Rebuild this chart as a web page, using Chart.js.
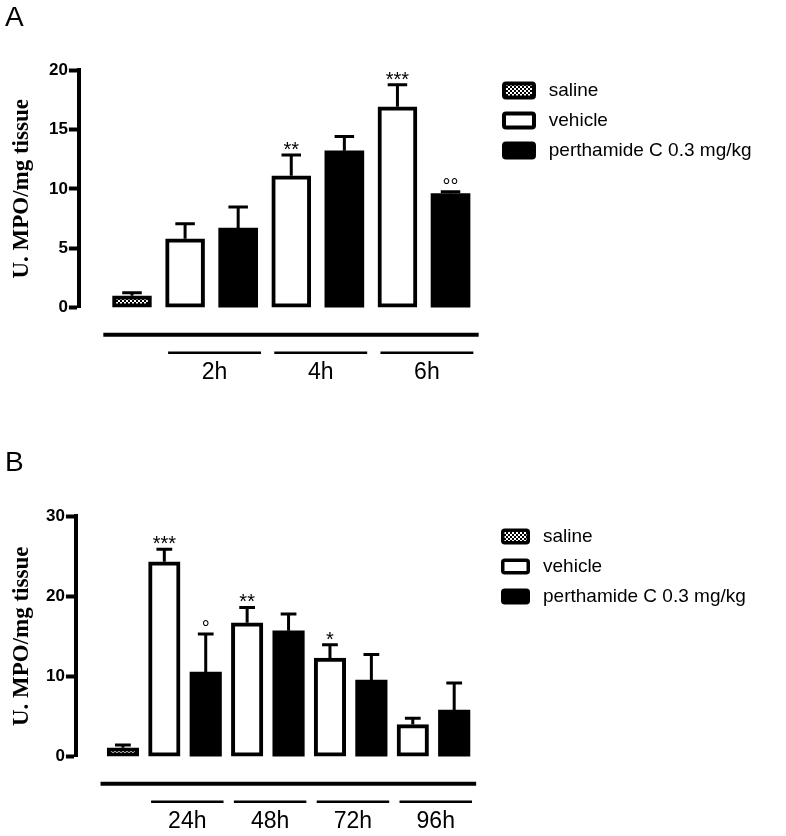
<!DOCTYPE html>
<html>
<head>
<meta charset="utf-8">
<script src="https://cdn.jsdelivr.net/npm/chart.js@4.4.1/dist/chart.umd.min.js"></script>
<style>
  body { margin: 0; background: #fff; }
  canvas { display: block; }
</style>
</head>
<body>
<canvas id="chartA" width="786" height="410"></canvas>
<canvas id="chartB" width="786" height="426"></canvas>
<script>
// Panel A: 2h - 6h
var timesA = ['2h', '4h', '6h'];
var salineA = 1.0;
var salineErrA = 0.25;
var vehicleA = [5.8, 11.1, 16.9];
var vehicleErrA = [1.27, 1.75, 1.85];
var vehicleMarksA = ['', '**', '***'];
var perthA = [6.7, 13.2, 9.6];
var perthErrA = [1.77, 1.2, 0.15];
var perthMarksA = ['', '', '°°'];

// Panel B: 24h - 96h
var timesB = ['24h', '48h', '72h', '96h'];
var salineB = 1.1;
var salineErrB = 0.35;
var vehicleB = [24.3, 16.7, 12.3, 4.0];
var vehicleErrB = [1.55, 1.9, 1.65, 0.8];
var vehicleMarksB = ['***', '**', '*', ''];
var perthB = [10.55, 15.7, 9.55, 5.8];
var perthErrB = [4.75, 2.1, 3.2, 3.4];
var perthMarksB = ['°', '', '', ''];

var seriesNames = ['saline', 'vehicle', 'perthamide C 0.3 mg/kg'];

Chart.defaults.color = '#000';
Chart.defaults.font.family = 'Liberation Sans, Arial, sans-serif';

function checkerPattern() {
  var c = document.createElement('canvas');
  c.width = 4; c.height = 4;
  var g = c.getContext('2d');
  g.fillStyle = '#fff';
  g.fillRect(0, 0, 4, 4);
  g.fillStyle = '#000';
  g.fillRect(0, 0, 2, 2);
  g.fillRect(2, 2, 2, 2);
  return g.createPattern(c, 'repeat');
}
var saltFill = checkerPattern();

// saline sits at x = 1, then vehicle / perthamide pairs for each time point
function buildDatasets(saline, salineErr, veh, vehErr, vehMarks, perth, perthErr, perthMarks) {
  var common = { borderColor: '#000', borderWidth: 4, borderSkipped: false,
                 grouped: false, clip: false };
  var vehPts = veh.map(function(v, i) { return { x: 2 + 2 * i, y: v, err: vehErr[i], mark: vehMarks[i] }; });
  var perthPts = perth.map(function(v, i) { return { x: 3 + 2 * i, y: v, err: perthErr[i], mark: perthMarks[i] }; });
  return [
    Object.assign({ label: seriesNames[0], backgroundColor: saltFill,
                    data: [{ x: 1, y: saline, err: salineErr, mark: '' }] }, common),
    Object.assign({ label: seriesNames[1], backgroundColor: '#fff', data: vehPts }, common),
    // solid black bars need no separate border
    Object.assign({}, common, { label: seriesNames[2], backgroundColor: '#000', borderWidth: 0, data: perthPts })
  ];
}

// the layout only lets a side legend take a quarter of the width, so give it a fixed one
var wideLegend = {
  id: 'wideLegend',
  beforeLayout(chart, args, opts) {
    var legend = chart.legend;
    if (!legend || legend._wide) return;
    var orig = legend.update;
    legend.update = function(maxWidth, maxHeight, margins) {
      orig.call(this, 1000, maxHeight, margins);
      this.width = opts.width;
    };
    legend._wide = true;
  }
};

var extras = {
  id: 'extras',
  afterDatasetsDraw(chart, args, opts) {
    var ctx = chart.ctx;
    var x = chart.scales.x, y = chart.scales.y;
    var zero = y.getPixelForValue(0);
    ctx.save();
    ctx.strokeStyle = '#000';
    ctx.fillStyle = '#000';
    ctx.lineCap = 'butt';
    // error bars and significance marks
    chart.data.datasets.forEach(function(ds, di) {
      chart.getDatasetMeta(di).data.forEach(function(bar, i) {
        var pt = ds.data[i];
        var top = y.getPixelForValue(pt.y + pt.err);
        var half = bar.width * 0.25;
        ctx.lineWidth = 3;
        ctx.beginPath();
        ctx.moveTo(bar.x, bar.y);
        ctx.lineTo(bar.x, top);
        ctx.moveTo(bar.x - half, top);
        ctx.lineTo(bar.x + half, top);
        ctx.stroke();
        if (pt.mark) {
          ctx.font = '20px Liberation Sans';
          ctx.textAlign = 'center';
          ctx.textBaseline = 'alphabetic';
          ctx.fillText(pt.mark, bar.x, top + 1);
        }
      });
    });
    // grouping lines under the bars
    var times = opts.times;
    var last = 1 + 2 * times.length;
    ctx.lineWidth = 4;
    ctx.beginPath();
    ctx.moveTo(x.getPixelForValue(0.46), zero + 27);
    ctx.lineTo(x.getPixelForValue(last + 0.53), zero + 27);
    ctx.stroke();
    ctx.lineWidth = 2.5;
    ctx.font = '23px Liberation Sans';
    ctx.textAlign = 'center';
    ctx.textBaseline = 'middle';
    times.forEach(function(t, i) {
      var x0 = x.getPixelForValue(2 + 2 * i - 0.32);
      var x1 = x.getPixelForValue(3 + 2 * i + 0.43);
      ctx.beginPath();
      ctx.moveTo(x0, zero + 45);
      ctx.lineTo(x1, zero + 45);
      ctx.stroke();
      ctx.fillText(t, (x0 + x1) / 2, zero + 65);
    });
    ctx.restore();
  }
};

function makeChart(id, letter, datasets, times, cfg) {
  return new Chart(document.getElementById(id), {
    type: 'bar',
    data: { datasets: datasets },
    plugins: [wideLegend, extras],
    options: {
      responsive: false,
      animation: false,
      barThickness: cfg.barW,
      layout: { padding: cfg.padding },
      scales: {
        x: { type: 'linear', display: false, offset: false, min: cfg.xMin, max: cfg.xMax },
        y: {
          min: 0, max: cfg.yMax,
          ticks: { stepSize: cfg.yStep, padding: 1, font: { size: 17, weight: 'bold' } },
          grid: { drawOnChartArea: false, drawTicks: true, tickLength: 10, tickWidth: 4, tickColor: '#000' },
          border: { display: true, color: '#000', width: 4 },
          title: { display: true, text: 'U. MPO/mg tissue',
                   font: { family: 'Liberation Serif, Times New Roman, serif', size: 23, weight: 'bold' },
                   padding: { top: 3.2, bottom: cfg.titleGap } }
        }
      },
      plugins: {
        extras: { times: times },
        wideLegend: { width: cfg.legendW },
        tooltip: { enabled: false },
        title: { display: true, text: letter, align: 'start',
                 font: { size: 28, weight: 'normal' }, padding: { top: 1, bottom: cfg.letterGap } },
        legend: {
          position: 'right', align: 'start', fullSize: false,
          labels: {
            boxWidth: cfg.boxW, boxHeight: cfg.boxH, padding: cfg.legendPad, useBorderRadius: true, borderRadius: 2,
            font: { size: 19 },
            generateLabels: function(chart) {
              return chart.data.datasets.map(function(ds, i) {
                return { text: ' ' + ds.label, fillStyle: ds.backgroundColor, strokeStyle: '#000',
                         lineWidth: cfg.boxLine, borderRadius: 2, datasetIndex: i, fontColor: '#000' };
              });
            }
          }
        }
      }
    }
  });
}

makeChart('chartA', 'A',
  buildDatasets(salineA, salineErrA, vehicleA, vehicleErrA, vehicleMarksA, perthA, perthErrA, perthMarksA),
  timesA,
  { padding: { top: 0, left: 5, right: 0, bottom: 102.3 }, xMin: 0, xMax: 7.8, barW: 39,
    yMax: 20, yStep: 5, titleGap: 12.2, letterGap: 35.4, boxW: 30, boxH: 14, boxLine: 4,
    legendW: 293, legendPad: 11 });

makeChart('chartB', 'B',
  buildDatasets(salineB, salineErrB, vehicleB, vehicleErrB, vehicleMarksB, perthB, perthErrB, perthMarksB),
  timesB,
  { padding: { top: 35, left: 5, right: 0, bottom: 79.3 }, xMin: -0.135, xMax: 9.907, barW: 31.5,
    yMax: 30, yStep: 10, titleGap: 9.2, letterGap: 36.4, boxW: 25.5, boxH: 12.5, boxLine: 3.5,
    legendW: 294.25, legendPad: 11 });
</script>
</body>
</html>
